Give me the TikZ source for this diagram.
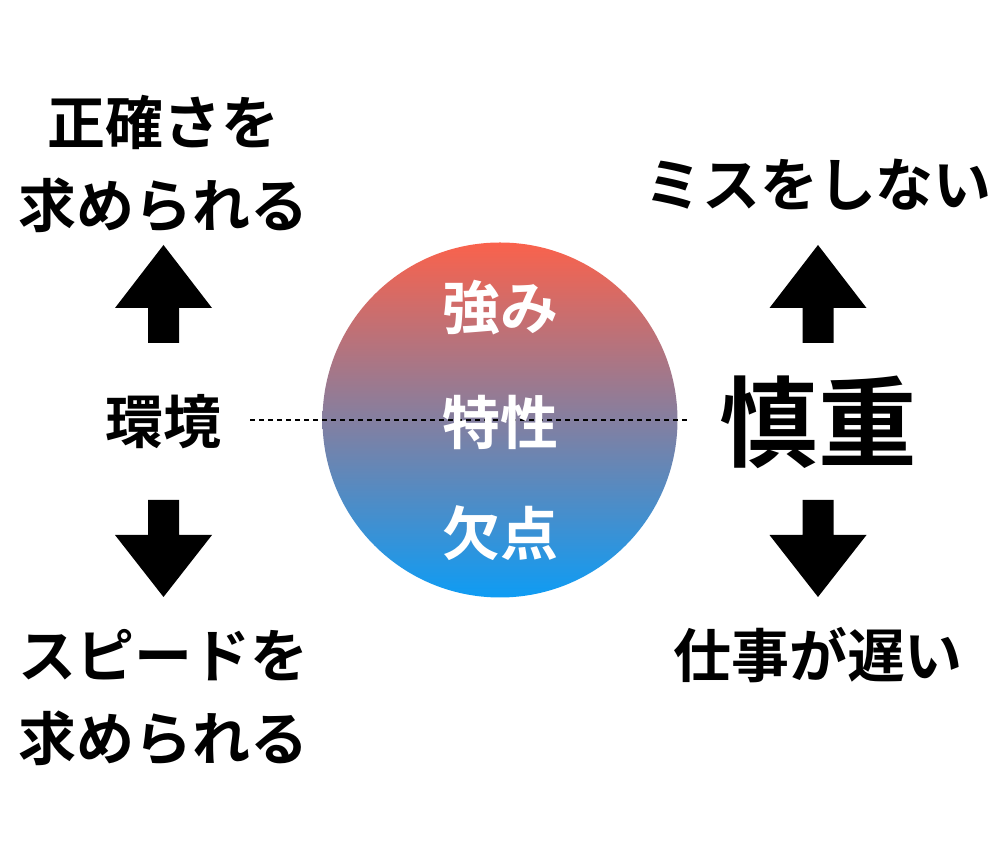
\documentclass[tikz,border=0pt]{standalone}
\usepackage{fontspec}
\setmainfont{Noto Sans CJK JP}[BoldFont={Noto Sans CJK JP Bold}]
\usepackage{tikz}
\usetikzlibrary{positioning}
\usepackage{xcolor}
\definecolor{circtop}{RGB}{250,98,76}
\definecolor{circbot}{RGB}{14,156,244}

\begin{document}
\begin{tikzpicture}[
    txt/.style={font=\bfseries\fontsize{33}{39}\selectfont, inner sep=0pt},
    intxt/.style={txt, text=white},
    bigtxt/.style={font=\bfseries\fontsize{56}{64}\selectfont, inner sep=0pt},
    uparrow/.pic={\fill (0,0) -- (-0.97,-1.26) -- (-0.31,-1.26) -- (-0.31,-1.96) -- (0.31,-1.96) -- (0.31,-1.26) -- (0.97,-1.26) -- cycle;},
    downarrow/.pic={\fill (0,0) -- (-0.97,1.24) -- (-0.31,1.24) -- (-0.31,1.94) -- (0.31,1.94) -- (0.31,1.24) -- (0.97,1.24) -- cycle;}
  ]
  \useasboundingbox (0,0) rectangle (20,17.12);
  % centre circle
  \shade[top color=circtop, bottom color=circbot] (10,8.72) circle (3.55);
  \coordinate (lineL) at (5.0,8.72);
  \coordinate (lineR) at (13.8,8.72);
  \draw[line width=1.5pt, dash pattern=on 0.1cm off 0.08cm] (lineL) -- (lineR);
  \node[intxt] (strong) at (10,10.96) {強み};
  \node[intxt] (trait) at (10,8.68) {特性};
  \node[intxt] (weak) at (10,6.46) {欠点};
  % left column
  \node[txt] (acc1) at (3.27,14.68) {正確さを};
  \node[txt] (acc2) at (3.27,13.02) {求められる};
  \pic at (3.27,12.22) {uparrow};
  \node[txt] (env) at (3.27,8.68) {環境};
  \pic at (3.27,5.18) {downarrow};
  \node[txt] (spd1) at (3.27,4.02) {スピードを};
  \node[txt] (spd2) at (3.27,2.36) {求められる};
  % right column
  \node[txt] (nomiss) at (16.36,13.42) {ミスをしない};
  \pic at (16.36,12.22) {uparrow};
  \node[bigtxt] (care) at (16.36,8.68) {慎重};
  \pic at (16.36,5.18) {downarrow};
  \node[txt] (slow) at (16.36,4.02) {仕事が遅い};
\end{tikzpicture}
\end{document}
